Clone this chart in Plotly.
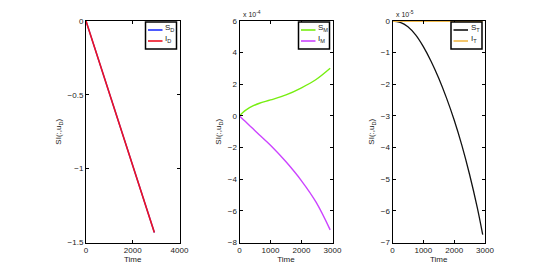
import plotly.graph_objects as go

# Panel 1 (D): linear
t_D = [0, 2925]
S_D = [0, -1.432]
I_D = [0, -1.432]

# Panel 2 (M): values in units of 1e-4
t_M = [0, 100, 215, 430, 645, 1000, 1500, 2000, 2470, 2925]
S_M = [0, 0.20, 0.38, 0.63, 0.80, 1.01, 1.33, 1.78, 2.30, 3.01]
I_M = [0, -0.19, -0.40, -0.80, -1.20, -1.85, -2.90, -4.10, -5.45, -7.20]

# Panel 3 (T): values in units of 1e-5
t_T = [0, 250, 500, 750, 1000, 1250, 1500, 1750, 2000, 2250, 2500, 2750, 2925]
S_T = [0, -0.04, -0.18, -0.44, -0.81, -1.27, -1.81, -2.43, -3.13, -3.93, -4.85, -5.90, -6.75]
I_T = [0, 0, 0, 0, 0, 0, 0, 0, 0, 0, 0, 0, 0]

legend_names = [["S", "D", "I", "D"], ["S", "M", "I", "M"], ["S", "T", "I", "T"]]
colors = [["#2030ff", "#ee1122"], ["#77ee11", "#cc44ff"], ["#111111", "#f0b848"]]

FONT = "Liberation Sans, Arial, sans-serif"
OFF = 8  # page body margin
W, H = 545 - OFF, 273 - OFF

fig = go.Figure()
fig.add_trace(go.Scatter(x=t_D, y=S_D, mode="lines", line=dict(color=colors[0][0], width=1.3),
                         xaxis="x", yaxis="y", showlegend=False))
fig.add_trace(go.Scatter(x=t_D, y=I_D, mode="lines", line=dict(color=colors[0][1], width=1.6),
                         xaxis="x", yaxis="y", showlegend=False))
fig.add_trace(go.Scatter(x=t_M, y=S_M, mode="lines", line_shape="spline",
                         line=dict(color=colors[1][0], width=1.4), xaxis="x2", yaxis="y2", showlegend=False))
fig.add_trace(go.Scatter(x=t_M, y=I_M, mode="lines", line_shape="spline",
                         line=dict(color=colors[1][1], width=1.4), xaxis="x2", yaxis="y2", showlegend=False))
fig.add_trace(go.Scatter(x=t_T, y=S_T, mode="lines", line_shape="spline",
                         line=dict(color=colors[2][0], width=1.3), xaxis="x3", yaxis="y3", showlegend=False))
fig.add_trace(go.Scatter(x=t_T, y=I_T, mode="lines",
                         line=dict(color=colors[2][1], width=1.8), xaxis="x3", yaxis="y3", showlegend=False,
                         cliponaxis=False))

def px(x):
    return (x - OFF) / W

def py(y):
    return 1 - (y - OFF) / H

doms = [(86, 179.5), (239.5, 332.5), (392.5, 485)]
ydom = [py(242.5), py(21)]

axcommon = dict(showgrid=False, zeroline=False, showline=True, linecolor="black", linewidth=1,
                mirror="allticks", ticks="inside", ticklen=3, tickcolor="black", automargin=False,
                tickfont=dict(family=FONT, size=8, color="#222"))

xranges = [[0, 4000], [0, 3000], [0, 3000]]
xticks = [[0, 2000, 4000], [0, 1000, 2000, 3000], [0, 1000, 2000, 3000]]
yranges = [[-1.5, 0], [-8, 6], [-7, 0]]
yticks = [[-1.5, -1, -0.5, 0], list(range(-8, 7, 2)), list(range(-7, 1))]

layout = dict(width=W, height=H, margin=dict(l=0, r=0, t=0, b=0), showlegend=False,
              plot_bgcolor="white", paper_bgcolor="white", font=dict(family=FONT, size=8, color="#222"))
shapes = []
annotations = []
for i in range(3):
    sfx = "" if i == 0 else str(i + 1)
    layout["xaxis" + sfx] = dict(axcommon, domain=[px(doms[i][0]), px(doms[i][1])], range=xranges[i],
                                 tickvals=xticks[i], anchor="y" + sfx,
                                 title=dict(text="Time", font=dict(family=FONT, size=8, color="#222"), standoff=0))
    layout["yaxis" + sfx] = dict(axcommon, domain=ydom, range=yranges[i], tickvals=yticks[i],
                                 anchor="x" + sfx,
                                 title=dict(text="SI(:,u<sub>D</sub>)", font=dict(family=FONT, size=8, color="#222"),
                                            standoff=4))
    # manual legend box
    right = doms[i][1] - 3
    left = right - 31
    top, bot = 22, 49
    shapes.append(dict(type="rect", xref="paper", yref="paper", x0=px(left), x1=px(right),
                       y0=py(bot), y1=py(top), line=dict(color="black", width=1.5), fillcolor="white",
                       layer="above"))
    for k, yy in enumerate([30, 41]):
        shapes.append(dict(type="line", xref="paper", yref="paper", x0=px(left + 2.5), x1=px(left + 17),
                           y0=py(yy), y1=py(yy), line=dict(color=colors[i][k], width=1.6), layer="above"))
        nm, sub = legend_names[i][2 * k], legend_names[i][2 * k + 1]
        annotations.append(dict(x=px(left + 17.5), y=py(yy - 1.5), xref="paper", yref="paper",
                                xanchor="left", yanchor="middle", showarrow=False,
                                text=f"{nm}<sub>{sub}</sub>", font=dict(family=FONT, size=8, color="#222")))

layout["yaxis"]["ticktext"] = ["\u22121.5", "\u22121", "\u22120.5", "0"]
layout["shapes"] = shapes
layout["annotations"] = annotations
fig.update_layout(**layout)
fig.add_annotation(x=px(241), y=py(14), xref="paper", yref="paper", xanchor="left", yanchor="middle",
                   text="x 10<sup>-4</sup>", showarrow=False, font=dict(family=FONT, size=7, color="#222"))
fig.add_annotation(x=px(394), y=py(14), xref="paper", yref="paper", xanchor="left", yanchor="middle",
                   text="x 10<sup>-5</sup>", showarrow=False, font=dict(family=FONT, size=7, color="#222"))

fig.write_html("out.html")
